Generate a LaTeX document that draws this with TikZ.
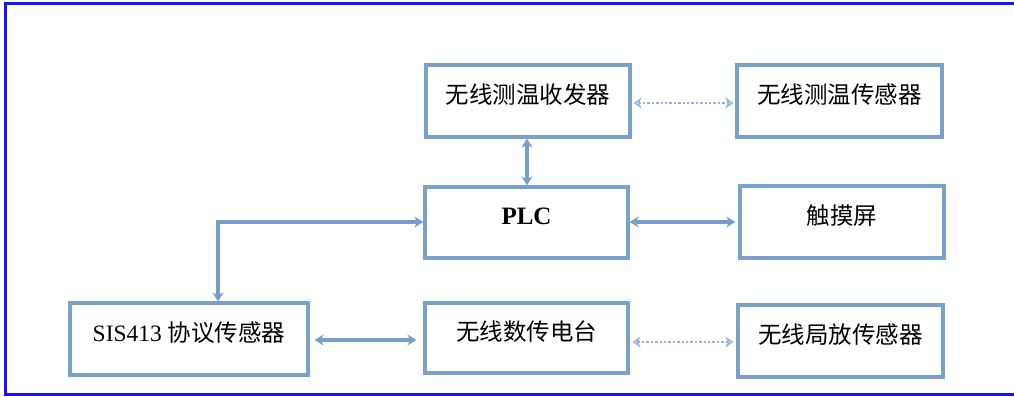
\documentclass[tikz,border=0pt]{standalone}
\usepackage{fontspec}
\setmainfont{Liberation Serif}
\newfontfamily\cjk{Noto Sans CJK SC}
\usetikzlibrary{arrows.meta}
\definecolor{boxblue}{RGB}{122,160,204}
\definecolor{arrblue}{RGB}{120,158,202}
\definecolor{dotblue}{RGB}{150,180,215}
\definecolor{frameblue}{RGB}{20,20,250}
\tikzset{
  box/.style={draw=boxblue, line width=3.2pt, fill=white, inner sep=0pt,
    text height=18pt, text depth=14pt, font=\fontsize{23.5}{26}\selectfont},
  link/.style={draw=arrblue, line width=3.2pt,
    {Stealth[length=9pt,width=11pt]}-{Stealth[length=9pt,width=11pt]}},
  wlink/.style={draw=dotblue, line width=2.4pt, dotted,
    {Stealth[length=8pt,width=11pt,open]}-{Stealth[length=8pt,width=11pt,open]}},
}
\begin{document}
\begin{tikzpicture}[x=1pt,y=-1pt]
\useasboundingbox (0,0) rectangle (1014,396);
\draw[frameblue, line width=3pt] (1014,4) -- (5,4) -- (5,394) -- (1014,394);

\node[box, minimum width=204pt, minimum height=72pt] (rx) at (528,101) {\cjk 无线测温收发器};
\node[box, minimum width=205pt, minimum height=72pt] (ts) at (839.5,101) {\cjk 无线测温传感器};
\node[box, minimum width=203pt, minimum height=71pt] (plc) at (526.5,222.5) {\fontsize{25}{27}\selectfont\textbf{PLC}};
\node[box, minimum width=204pt, minimum height=72pt] (touch) at (842,222) {\cjk 触摸屏};
\node[box, minimum width=238pt, minimum height=72pt] (sis) at (189,339) {SIS413 {\cjk 协议传感器}};
\node[box, minimum width=203pt, minimum height=70pt] (radio) at (526.5,338) {\cjk 无线数传电台};
\node[box, minimum width=205pt, minimum height=72pt] (pd) at (840.5,341) {\cjk 无线局放传感器};

\coordinate (corner) at (218,222);

\draw[link] (rx.south -| 527,0) -- (plc.north -| 527,0);
\draw[wlink, shorten <=2pt, shorten >=2pt] (rx.east |- 0,103) -- (ts.west |- 0,103);
\draw[link, shorten >=3pt] (plc.east |- 0,222) -- (touch.west |- 0,222);
\draw[link] (plc.west |- 0,222) -- (corner) -- (sis.north -| corner);
\draw[link, shorten <=5pt, shorten >=7pt] (sis.east |- 0,340) -- (radio.west |- 0,340);
\draw[wlink, shorten <=3pt, shorten >=3pt] (radio.east |- 0,342) -- (pd.west |- 0,342);
\end{tikzpicture}
\end{document}
